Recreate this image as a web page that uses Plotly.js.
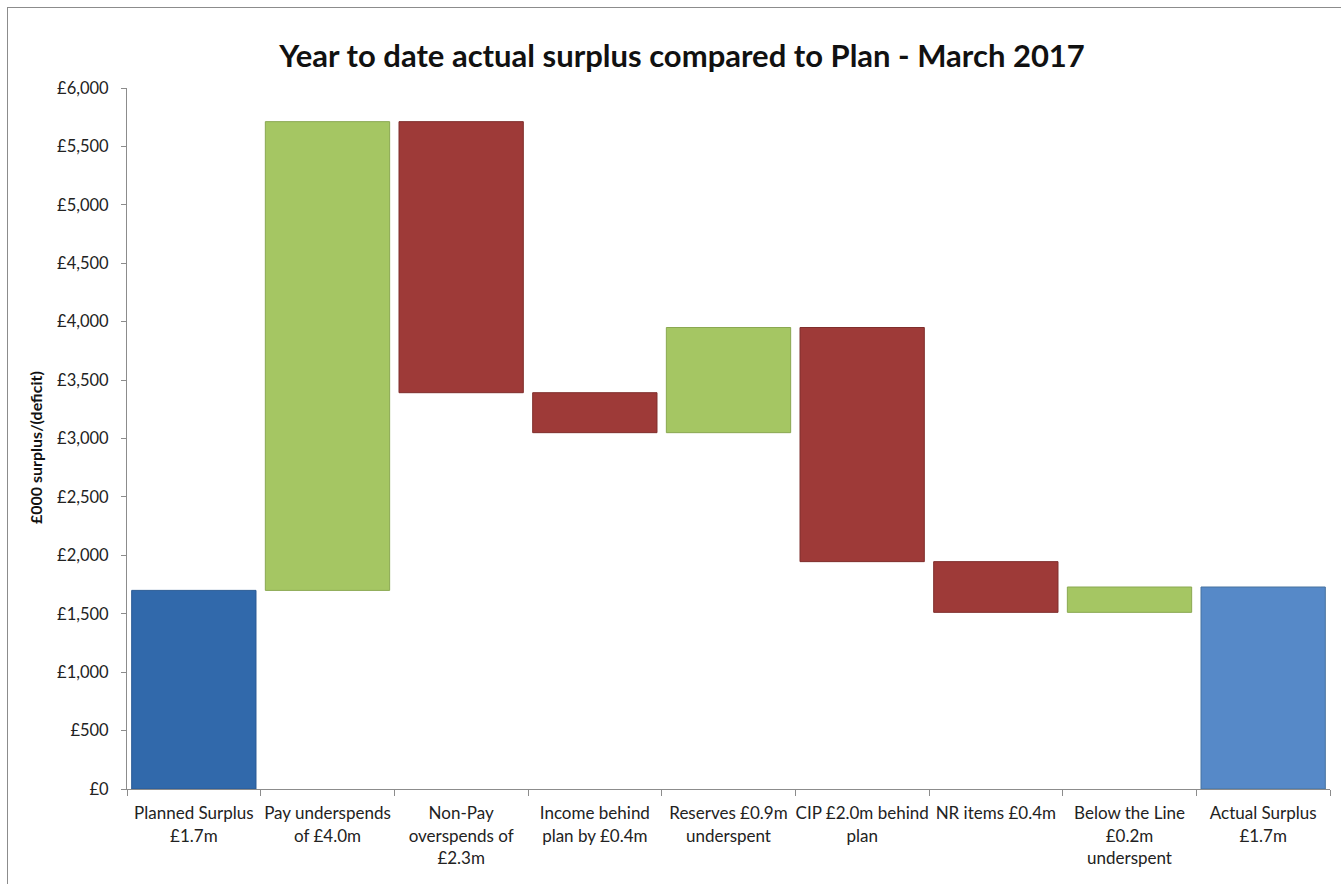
<!DOCTYPE html>
<html>
<head>
<meta charset="utf-8">
<script src="https://cdn.plot.ly/plotly-3.0.1.min.js"></script>
<style>
html,body{margin:0;padding:0;background:#fff;}
#wrap{position:relative;width:1341px;height:884px;overflow:hidden;}
#chart{width:1341px;height:884px;}
#frame{position:absolute;left:7px;top:7px;width:1400px;height:1000px;border-left:1px solid #8c8c8c;border-top:1px solid #8c8c8c;pointer-events:none;}
</style>
</head>
<body>
<div id="wrap"><div id="chart"></div><div id="frame"></div></div>
<script>
const categories = [
  "Planned Surplus<br>£1.7m",
  "Pay underspends<br>of £4.0m",
  "Non-Pay<br>overspends of<br>£2.3m",
  "Income behind<br>plan by £0.4m",
  "Reserves £0.9m<br>underspent",
  "CIP £2.0m behind<br>plan",
  "NR items £0.4m",
  "Below the Line<br>£0.2m<br>underspent",
  "Actual Surplus<br>£1.7m"
];
const barBottoms = [0, 1700, 3392, 3050, 3050, 1946, 1512, 1512, 0];
const barTops    = [1700, 5712, 5712, 3392, 3950, 3950, 1946, 1729, 1729];
const barColors  = ["#3169ab", "#a5c663", "#9e3a38", "#9e3a38", "#a5c663", "#9e3a38", "#9e3a38", "#a5c663", "#5689c8"];
const lineColors = ["#2a5a94", "#8aa851", "#7f2e2c", "#7f2e2c", "#8aa851", "#7f2e2c", "#7f2e2c", "#8aa851", "#46729f"];
const yTickVals = [0,500,1000,1500,2000,2500,3000,3500,4000,4500,5000,5500,6000];

const heights = barTops.map((t, i) => t - barBottoms[i]);
const font = "Lato, 'Open Sans', sans-serif";

const trace = {
  type: "bar",
  x: categories,
  y: heights,
  base: barBottoms,
  marker: {color: barColors, line: {color: lineColors, width: 1}},
  width: 0.93,
  hoverinfo: "skip"
};

const layout = {
  width: 1341, height: 884,
  margin: {l: 127, r: 11, t: 88, b: 95},
  paper_bgcolor: "#fff", plot_bgcolor: "#fff",
  showlegend: false,
  font: {family: font, color: "#222", size: 17},
  title: {
    text: "<b>Year to date actual surplus compared to Plan - March 2017</b>",
    font: {family: font, size: 31, color: "#111"},
    xref: "container", x: 0.5086, xanchor: "center",
    yref: "container", y: 0.937, yanchor: "middle"
  },
  xaxis: {
    type: "category",
    showline: true, linecolor: "#8c8c8c", linewidth: 1,
    ticks: "outside", tickson: "boundaries", ticklen: 6, tickcolor: "#8c8c8c",
    ticklabelstandoff: 9,
    showgrid: false, zeroline: false,
    tickfont: {family: font, size: 17, color: "#222"},
    tickangle: 0,
    fixedrange: true
  },
  yaxis: {
    range: [0, 6000],
    tickvals: yTickVals,
    ticktext: yTickVals.map(v => "£" + v.toLocaleString("en-GB")),
    showline: true, linecolor: "#8c8c8c", linewidth: 1,
    ticks: "outside", ticklen: 5, tickcolor: "#8c8c8c",
    ticklabelstandoff: 9,
    showgrid: false, zeroline: false,
    tickfont: {family: font, size: 16.5, color: "#222"},
    fixedrange: true
  },
  annotations: [{
    text: "<b>£000 surplus/(deficit)</b>",
    xref: "paper", yref: "paper",
    x: (35 - 127) / 1203, y: (789 - 447) / 701, xanchor: "center", yanchor: "middle",
    textangle: -90, showarrow: false,
    font: {family: font, size: 16, color: "#111"}
  }]
};

Plotly.newPlot("chart", [trace], layout, {displayModeBar: false, staticPlot: true});
</script>
</body>
</html>
